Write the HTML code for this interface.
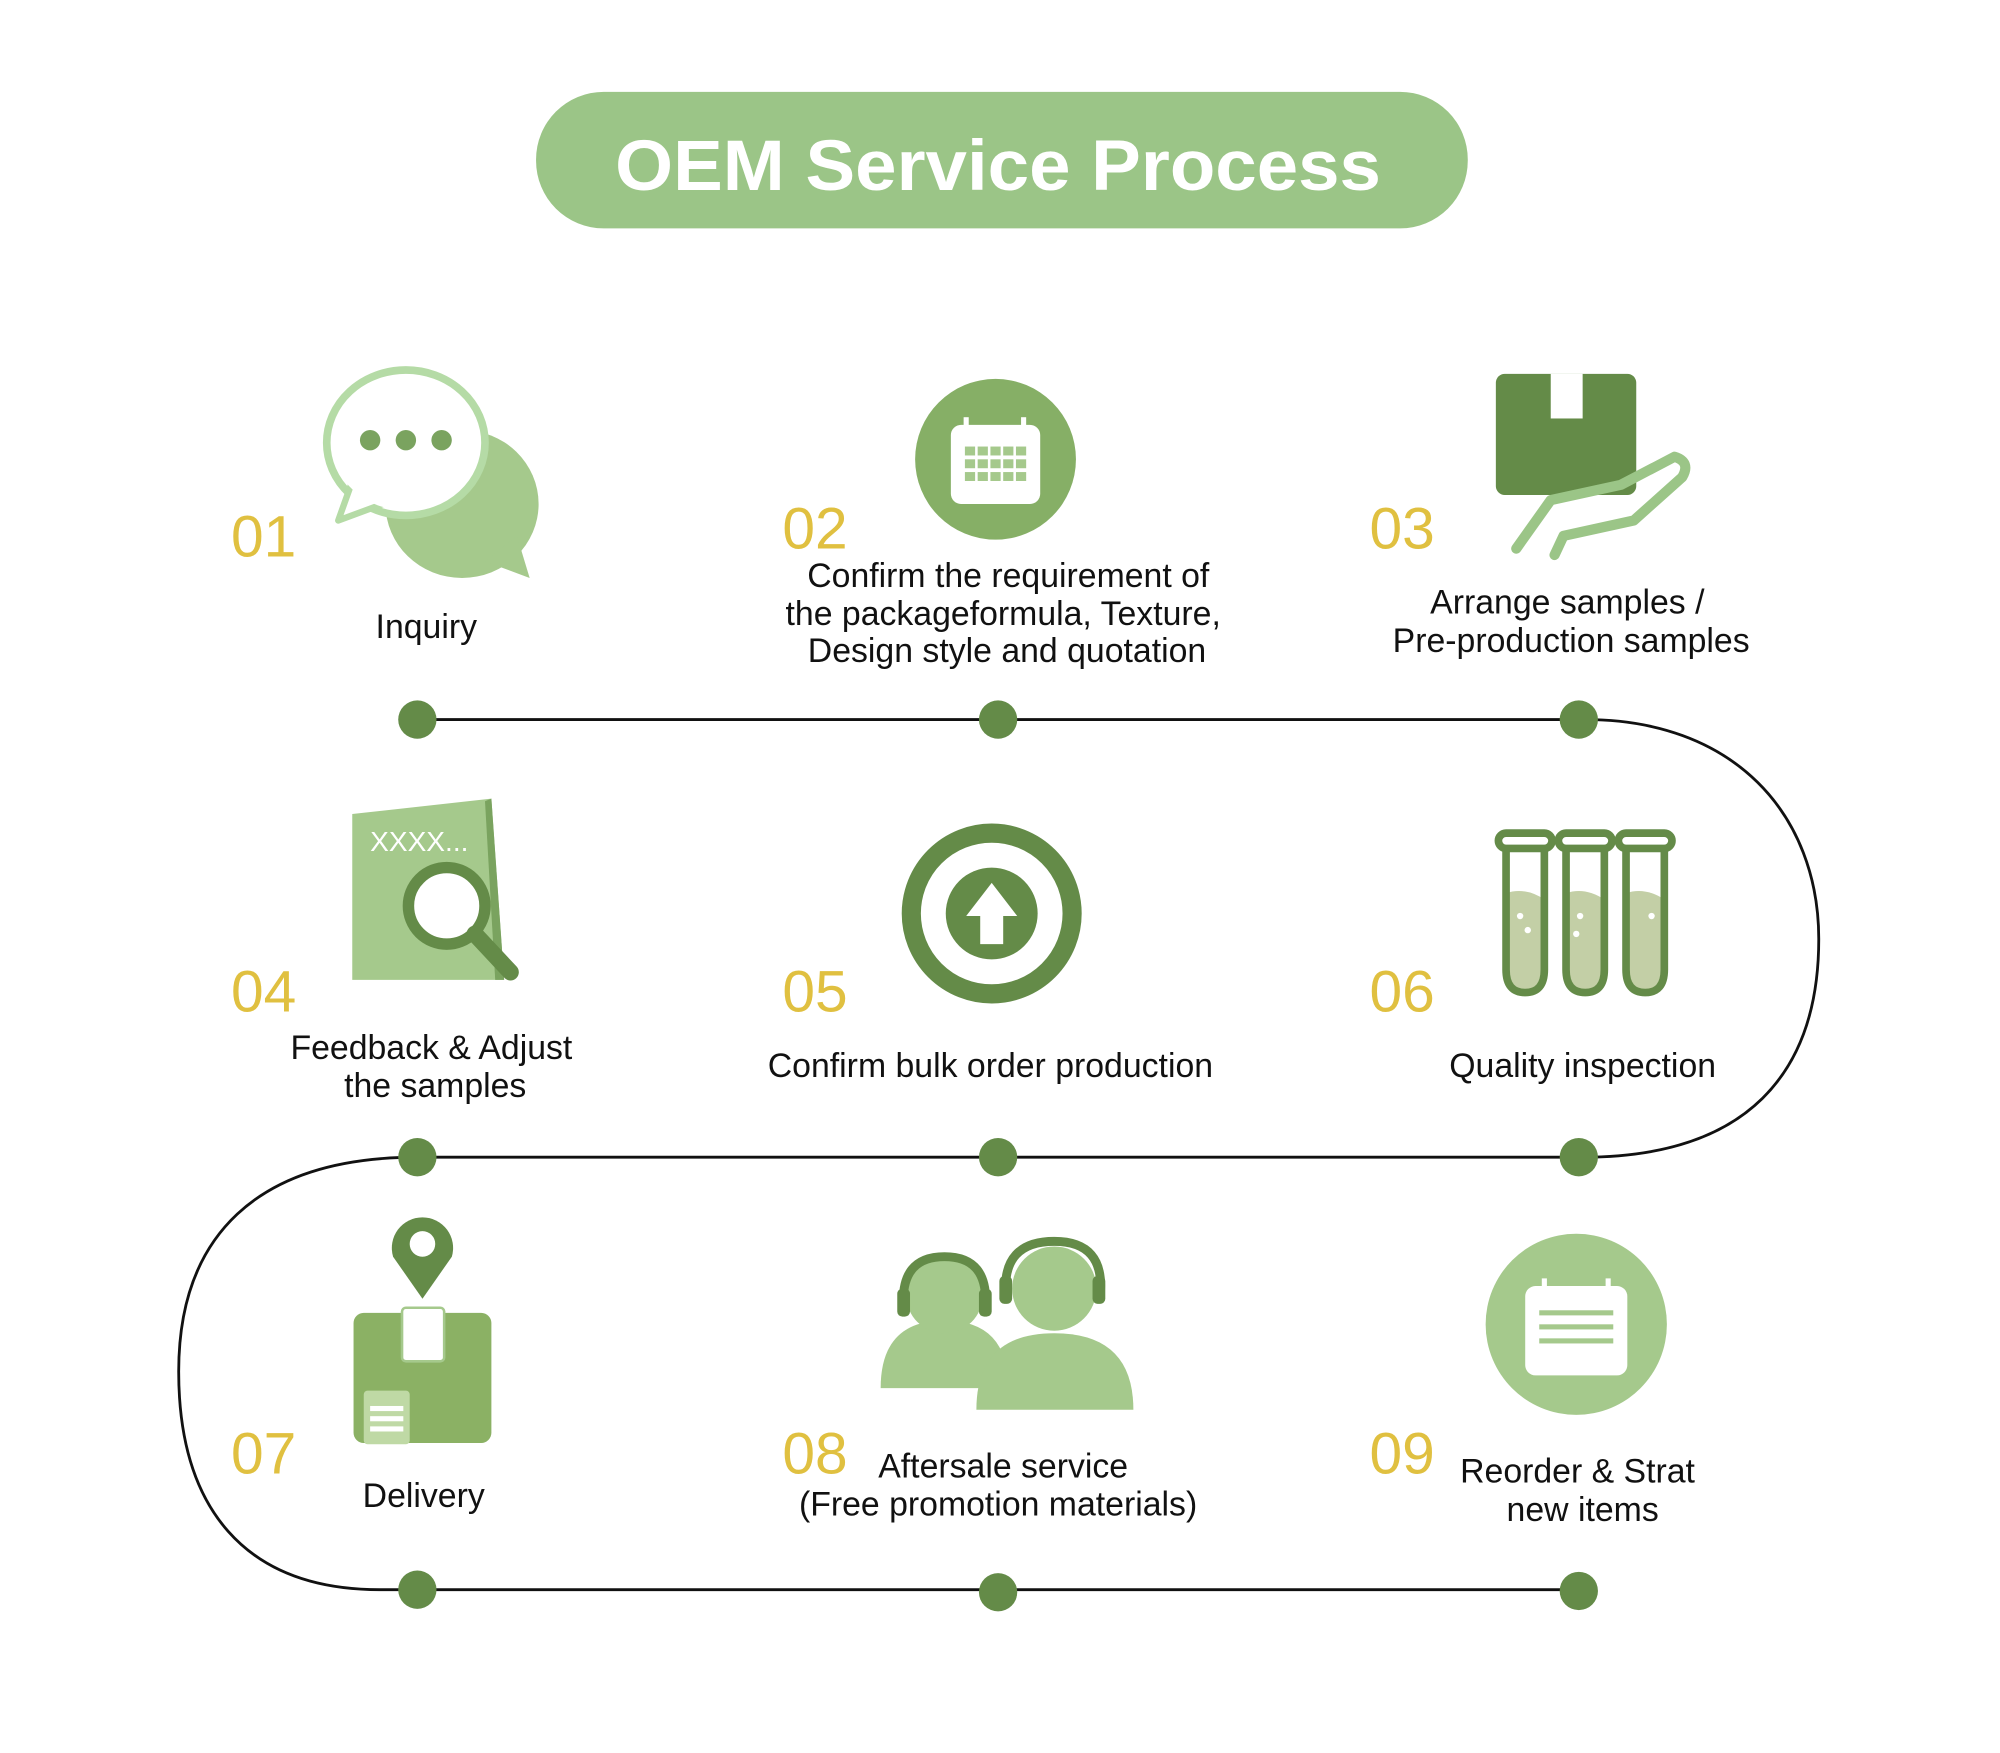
<!DOCTYPE html>
<html><head><meta charset="utf-8"><style>
html,body{margin:0;padding:0;background:#fff}
svg{display:block}
text{font-family:"Liberation Sans","DejaVu Sans",sans-serif}
</style></head><body>
<svg width="2000" height="1753" viewBox="0 0 1567 1374" preserveAspectRatio="none" xmlns="http://www.w3.org/2000/svg">
<rect width="1567" height="1374" fill="#fff"/>
<!-- title -->
<rect x="420" y="72" width="730" height="107" rx="53" fill="#9bc587"/>
<text x="782" y="149" text-anchor="middle" font-size="56" font-weight="bold" fill="#fff" textLength="600" lengthAdjust="spacingAndGlyphs">OEM  Service Process</text>

<!-- path -->
<path d="M327 564 L1237 564 C1360 562 1425 640 1425 736 C1425 840 1370 908 1237 907 L327 907 C200 907 140 970 140 1075 C140 1180 190 1247 300 1246 L1237 1246" fill="none" stroke="#111" stroke-width="2.2"/>
<g fill="#648b48">
<circle cx="327" cy="564" r="15"/><circle cx="782" cy="564" r="15"/><circle cx="1237" cy="564" r="15"/>
<circle cx="327" cy="907" r="15"/><circle cx="782" cy="907" r="15"/><circle cx="1237" cy="907" r="15"/>
<circle cx="327" cy="1246" r="15"/><circle cx="782" cy="1248" r="15"/><circle cx="1237" cy="1247" r="15"/>
</g>

<!-- numbers -->
<g fill="#e0c040" font-size="46">
<text x="181" y="436">01</text><text x="613" y="430">02</text><text x="1073" y="430">03</text>
<text x="181" y="793">04</text><text x="613" y="793">05</text><text x="1073" y="793">06</text>
<text x="181" y="1155">07</text><text x="613" y="1155">08</text><text x="1073" y="1155">09</text>
</g>

<!-- labels -->
<g fill="#111" font-size="26.5" text-anchor="middle">
<text x="334" y="500">Inquiry</text>
<text x="790" y="460">Confirm the requirement of</text>
<text x="786" y="490">the packageformula, Texture,</text>
<text x="789" y="519">Design style and quotation</text>
<text x="1228" y="481">Arrange samples /</text>
<text x="1231" y="511">Pre-production samples</text>
<text x="338" y="830">Feedback &amp; Adjust</text>
<text x="341" y="860">the samples</text>
<text x="776" y="844">Confirm bulk order production</text>
<text x="1240" y="844">Quality inspection</text>
<text x="332" y="1181">Delivery</text>
<text x="786" y="1158">Aftersale service</text>
<text x="782" y="1188">(Free promotion materials)</text>
<text x="1236" y="1162">Reorder &amp; Strat</text>
<text x="1240" y="1192">new items</text>
</g>

<!-- icon 01 chat -->
<ellipse cx="362" cy="395" rx="60" ry="58" fill="#a5c98c"/>
<polygon points="380,440 415,453 405,420" fill="#a5c98c"/>
<ellipse cx="318" cy="347" rx="62" ry="57" fill="#fff" stroke="#b5dba6" stroke-width="6"/>
<polygon points="275,380 265,408 300,395" fill="#fff" stroke="#b5dba6" stroke-width="5" stroke-linejoin="round"/>
<ellipse cx="318" cy="347" rx="58" ry="53" fill="#fff"/>
<g fill="#7aa35f"><circle cx="290" cy="345" r="8"/><circle cx="318" cy="345" r="8"/><circle cx="346" cy="345" r="8"/></g>

<!-- icon 02 calendar -->
<circle cx="780" cy="360" r="63" fill="#86af66"/>
<rect x="745" y="333" width="70" height="62" rx="8" fill="#fff"/>
<rect x="755" y="327" width="4" height="10" fill="#fff"/><rect x="800" y="327" width="4" height="10" fill="#fff"/>
<g fill="#a5c98c">
<rect x="756" y="350" width="48" height="7"/><rect x="756" y="360" width="48" height="7"/><rect x="756" y="370" width="48" height="7"/>
</g>
<g stroke="#fff" stroke-width="2"><line x1="765" y1="348" x2="765" y2="380"/><line x1="775" y1="348" x2="775" y2="380"/><line x1="785" y1="348" x2="785" y2="380"/><line x1="795" y1="348" x2="795" y2="380"/></g>

<!-- icon 03 box hand -->
<rect x="1172" y="293" width="110" height="95" rx="7" fill="#648b48"/>
<rect x="1215" y="293" width="25" height="35" fill="#fff"/>
<path d="M1188 430 L1215 392 L1270 380 L1312 358 Q1325 362 1318 374 L1280 408 L1225 420 L1218 435" fill="none" stroke="#9bc587" stroke-width="8" stroke-linejoin="round" stroke-linecap="round"/>

<!-- icon 04 document magnifier -->
<polygon points="276,638 385,626 395,768 276,768" fill="#a5c98c"/>
<polygon points="380,628 385,626 395,768 388,768" fill="#7aa35f"/>
<text x="290" y="667" font-size="22" fill="#fff">XXXX...</text>
<circle cx="350" cy="710" r="30" fill="#fff" stroke="#648b48" stroke-width="9"/>
<line x1="372" y1="732" x2="400" y2="762" stroke="#648b48" stroke-width="13" stroke-linecap="round"/>

<!-- icon 05 upload -->
<circle cx="777" cy="716" r="63" fill="none" stroke="#648b48" stroke-width="15"/>
<circle cx="777" cy="716" r="36" fill="#648b48"/>
<polygon points="777,692 797,718 786,718 786,740 768,740 768,718 757,718" fill="#fff"/>

<!-- icon 06 test tubes -->
<g fill="#c3cfa6">
<path d="M1180 700 Q1195 695 1210 705 L1210 760 Q1210 778 1195 778 Q1180 778 1180 760 Z"/>
<path d="M1227 700 Q1242 695 1257 705 L1257 760 Q1257 778 1242 778 Q1227 778 1227 760 Z"/>
<path d="M1274 700 Q1289 695 1304 705 L1304 760 Q1304 778 1289 778 Q1274 778 1274 760 Z"/>
</g>
<g fill="none" stroke="#648b48" stroke-width="6">
<path d="M1180 665 L1180 760 Q1180 778 1195 778 Q1210 778 1210 760 L1210 665"/>
<path d="M1227 665 L1227 760 Q1227 778 1242 778 Q1257 778 1257 760 L1257 665"/>
<path d="M1274 665 L1274 760 Q1274 778 1289 778 Q1304 778 1304 760 L1304 665"/>
<rect x="1174" y="653" width="42" height="12" rx="6"/><rect x="1221" y="653" width="42" height="12" rx="6"/><rect x="1268" y="653" width="42" height="12" rx="6"/>
</g>
<g fill="#fff"><circle cx="1191" cy="718" r="2.5"/><circle cx="1197" cy="729" r="2.5"/><circle cx="1238" cy="718" r="2.5"/><circle cx="1235" cy="732" r="2.5"/><circle cx="1294" cy="718" r="2.5"/></g>

<!-- icon 07 delivery -->
<path d="M331 1018 L308 985 A24 24 0 1 1 354 985 Z" fill="#648b48"/>
<circle cx="331" cy="975" r="10" fill="#fff"/>
<rect x="277" y="1029" width="108" height="102" rx="8" fill="#8bb164"/>
<rect x="315" y="1025" width="33" height="42" rx="3" fill="#fff" stroke="#a5c98c" stroke-width="2"/>
<rect x="285" y="1090" width="36" height="42" rx="3" fill="#bfd9a5"/>
<g fill="#fff"><rect x="290" y="1102" width="26" height="4"/><rect x="290" y="1110" width="26" height="4"/><rect x="290" y="1118" width="26" height="4"/></g>

<!-- icon 08 support people -->
<path d="M690 1088 Q690 1035 740 1035 Q790 1035 790 1088 Z" fill="#a5c98c"/>
<circle cx="740" cy="1015" r="30" fill="#a5c98c"/>
<path d="M708 1025 Q705 985 740 985 Q775 985 772 1025" fill="none" stroke="#648b48" stroke-width="7"/>
<path d="M765 1105 Q765 1045 826 1045 Q888 1045 888 1105 Z" fill="#a5c98c"/>
<circle cx="826" cy="1010" r="33" fill="#a5c98c"/>
<path d="M788 1015 Q785 973 826 973 Q866 973 862 1015" fill="none" stroke="#648b48" stroke-width="7"/>
<rect x="703" y="1010" width="10" height="22" rx="4" fill="#648b48"/><rect x="767" y="1010" width="10" height="22" rx="4" fill="#648b48"/>
<rect x="783" y="1000" width="10" height="22" rx="4" fill="#648b48"/><rect x="856" y="1000" width="10" height="22" rx="4" fill="#648b48"/>

<!-- icon 09 -->
<circle cx="1235" cy="1038" r="71" fill="#a5c98c"/>
<rect x="1195" y="1008" width="80" height="70" rx="8" fill="#fff"/>
<rect x="1208" y="1002" width="4" height="10" fill="#fff"/><rect x="1258" y="1002" width="4" height="10" fill="#fff"/>
<g fill="#a5c98c"><rect x="1206" y="1027" width="58" height="4"/><rect x="1206" y="1038" width="58" height="4"/><rect x="1206" y="1049" width="58" height="4"/></g>
</svg>
</body></html>
